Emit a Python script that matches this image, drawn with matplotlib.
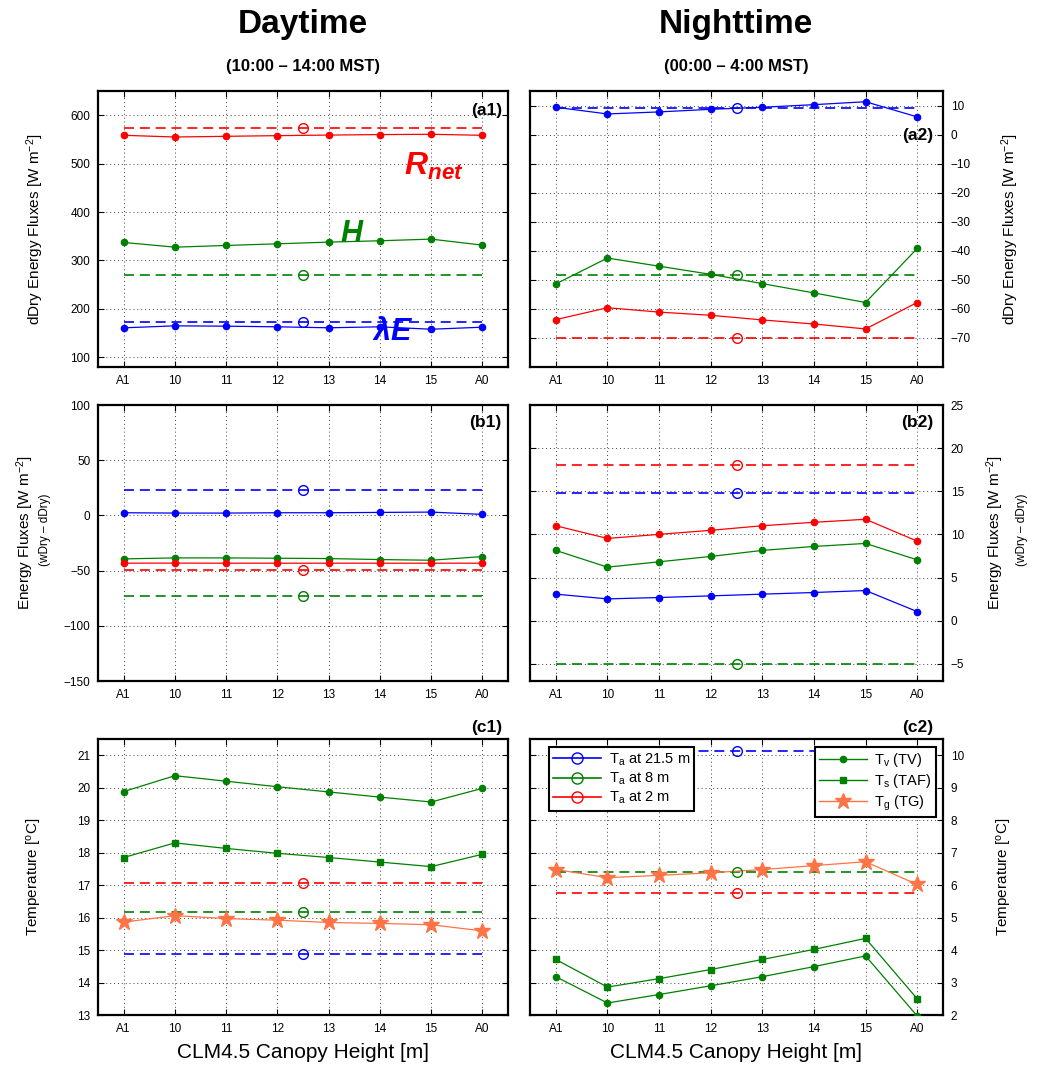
import matplotlib
matplotlib.use("Agg")
import matplotlib.pyplot as plt
from matplotlib.lines import Line2D

plt.rcParams["font.family"] = ["Liberation Sans", "DejaVu Sans"]
plt.rcParams["mathtext.fontset"] = "custom"
plt.rcParams["mathtext.rm"] = "Liberation Sans"
plt.rcParams["mathtext.it"] = "Liberation Sans:italic"
plt.rcParams["mathtext.bf"] = "Liberation Sans:bold:italic"


# =================
# DANE
# =================
heights = ["A1", "10", "11", "12", "13", "14", "15", "A0"]

# dzien - strumienie dDry
rnet_day = [558.5, 555.0, 556.4, 557.8, 559.0, 560.0, 560.6, 558.5]
h_day = [337.2, 327.5, 331.0, 334.4, 337.9, 340.7, 344.1, 331.7]
le_day = [160.9, 165.0, 164.3, 163.0, 161.0, 163.0, 158.0, 162.2]
obs_flux_day = {"rnet": 573.0, "h": 270.0, "le": 172.0}

# noc - strumienie dDry
rnet_night = [-63.7, -59.6, -61.1, -62.2, -63.8, -65.2, -66.9, -57.8]
h_night = [-51.4, -42.5, -45.3, -48.1, -51.3, -54.5, -57.8, -39.2]
le_night = [9.4, 7.1, 7.8, 8.7, 9.4, 10.3, 11.3, 6.1]
obs_flux_night = {"rnet": -70.0, "h": -48.2, "le": 9.2}

# roznica wDry - dDry
rnet_diff_day = [-43.3, -43.2, -43.3, -43.3, -43.3, -43.3, -43.3, -43.3]
h_diff_day = [-39.4, -38.5, -38.5, -38.8, -39.1, -40.0, -40.6, -37.3]
le_diff_day = [2.4, 2.1, 2.1, 2.4, 2.4, 2.7, 3.0, 0.9]
obs_diff_day = {"rnet": -49.4, "h": -73.3, "le": 22.7}

rnet_diff_night = [11.0, 9.53, 10.0, 10.47, 11.0, 11.4, 11.75, 9.22]
h_diff_night = [8.14, 6.2, 6.82, 7.44, 8.14, 8.6, 8.95, 7.05]
le_diff_night = [3.07, 2.52, 2.68, 2.87, 3.07, 3.26, 3.49, 1.05]
obs_diff_night = {"rnet": 18.1, "h": -5.0, "le": 14.8}

# temperatury
tv_day = [19.88, 20.37, 20.2, 20.03, 19.87, 19.71, 19.56, 19.98]
ts_day = [17.85, 18.3, 18.13, 17.98, 17.85, 17.71, 17.57, 17.95]
tg_day = [15.86, 16.06, 15.97, 15.92, 15.85, 15.82, 15.78, 15.59]
ta_day = {"21.5": 14.88, "8": 16.16, "2": 17.08}

tv_night = [3.18, 2.37, 2.63, 2.9, 3.18, 3.49, 3.82, 1.97]
ts_night = [3.71, 2.86, 3.12, 3.40, 3.71, 4.02, 4.36, 2.5]
tg_night = [6.48, 6.23, 6.3, 6.38, 6.48, 6.6, 6.72, 6.02]
ta_night = {"21.5": 10.12, "8": 6.4, "2": 5.75}

BLUE = "#0000ff"
GREEN = "#008000"
RED = "#ff0000"
CORAL = "#ff7446"

xs = list(range(1, len(heights) + 1))


# =================
# STYL WYKRESOW
# =================
def styl(ax, ylim, yticks, right=False):
    ax.set_xlim(0.5, 8.5)
    ax.set_xticks(xs)
    ax.set_xticklabels(heights)
    ax.set_ylim(*ylim)
    ax.set_yticks(yticks)
    ax.set_axisbelow(True)
    ax.grid(True, linestyle=(0, (1, 3)), color="k", linewidth=0.7, alpha=0.75)
    ax.tick_params(direction="in", top=True, right=True, length=4, width=0.8,
                   labelsize=8.5, pad=5.5)
    if right:
        ax.tick_params(labelleft=False, labelright=True)
    for s in ax.spines.values():
        s.set_linewidth(1.6)


def model(ax, values, color, marker="o", ms=4.5):
    ax.plot(xs, values, "-", color=color, marker=marker, ms=ms, lw=0.9,
            mec=color, mfc=color, zorder=3)


def pomiar(ax, value, color):
    ax.plot([xs[0], xs[-1]], [value, value], color=color, lw=1.2,
            linestyle=(0, (6, 3.5)), zorder=2)
    ax.plot(4.5, value, "o", mfc="none", mec=color, ms=7, mew=1.0, zorder=3)


def panel(ax, txt, x, y, va="center"):
    ax.text(x, y, txt, transform=ax.transAxes, ha="right", va=va,
            fontsize=12.5, fontweight="bold")


# =================
# UKLAD
# =================
fig = plt.figure(figsize=(10.41, 10.73), dpi=100)
W, H = 1041.0, 1073.0
cols = [(98, 410), (530, 413)]
rows = [(91, 367), (405, 681), (739, 1015)]
axs = [[fig.add_axes([c[0] / W, 1 - r[1] / H, c[1] / W, (r[1] - r[0]) / H])
        for c in cols] for r in rows]

# (a1)
ax = axs[0][0]
model(ax, rnet_day, RED)
model(ax, h_day, GREEN)
model(ax, le_day, BLUE)
pomiar(ax, obs_flux_day["rnet"], RED)
pomiar(ax, obs_flux_day["h"], GREEN)
pomiar(ax, obs_flux_day["le"], BLUE)
styl(ax, (80, 650), range(100, 601, 100))
ax.text(6.47, 476, r"$\mathbf{R_{net}}$", color=RED, fontsize=23, va="baseline")
ax.text(5.22, 338, r"$\mathbf{H}$", color=GREEN, fontsize=22, va="baseline")
ax.text(5.85, 136, r"$\mathbf{\lambda E}$", color=BLUE, fontsize=22, va="baseline")
panel(ax, "(a1)", 0.985, 0.931)

# (a2)
ax = axs[0][1]
model(ax, le_night, BLUE)
model(ax, h_night, GREEN)
model(ax, rnet_night, RED)
pomiar(ax, obs_flux_night["le"], BLUE)
pomiar(ax, obs_flux_night["h"], GREEN)
pomiar(ax, obs_flux_night["rnet"], RED)
styl(ax, (-80, 15), range(-70, 11, 10), right=True)
panel(ax, "(a2)", 0.976, 0.840)

# (b1)
ax = axs[1][0]
model(ax, le_diff_day, BLUE)
model(ax, h_diff_day, GREEN)
model(ax, rnet_diff_day, RED)
pomiar(ax, obs_diff_day["le"], BLUE)
pomiar(ax, obs_diff_day["h"], GREEN)
pomiar(ax, obs_diff_day["rnet"], RED)
styl(ax, (-150, 100), range(-150, 101, 50))
panel(ax, "(b1)", 0.985, 0.935)

# (b2)
ax = axs[1][1]
model(ax, rnet_diff_night, RED)
model(ax, h_diff_night, GREEN)
model(ax, le_diff_night, BLUE)
pomiar(ax, obs_diff_night["rnet"], RED)
pomiar(ax, obs_diff_night["le"], BLUE)
pomiar(ax, obs_diff_night["h"], GREEN)
styl(ax, (-7, 25), range(-5, 26, 5), right=True)
panel(ax, "(b2)", 0.976, 0.935)

# (c1)
ax = axs[2][0]
model(ax, tv_day, GREEN)
model(ax, ts_day, GREEN, marker="s", ms=5)
model(ax, tg_day, CORAL, marker="*", ms=12)
pomiar(ax, ta_day["2"], RED)
pomiar(ax, ta_day["8"], GREEN)
pomiar(ax, ta_day["21.5"], BLUE)
styl(ax, (13, 21.5), range(13, 22))
panel(ax, "(c1)", 0.985, 1.04)

# (c2)
ax = axs[2][1]
model(ax, tv_night, GREEN)
model(ax, ts_night, GREEN, marker="s", ms=5)
model(ax, tg_night, CORAL, marker="*", ms=12)
pomiar(ax, ta_night["2"], RED)
pomiar(ax, ta_night["8"], GREEN)
pomiar(ax, ta_night["21.5"], BLUE)
styl(ax, (2, 10.5), range(2, 11), right=True)
panel(ax, "(c2)", 0.976, 1.04)

# legendy
obs_handles = [Line2D([], [], color=c, lw=1.2, marker="o", mfc="none", ms=8, mew=1.0)
               for c in (BLUE, GREEN, RED)]
obs_labels = [r"T$_\mathrm{a}$ at 21.5 m", r"T$_\mathrm{a}$ at 8 m",
              r"T$_\mathrm{a}$ at 2 m"]
mod_handles = [Line2D([], [], color=GREEN, lw=1.0, marker="o", ms=4.5),
               Line2D([], [], color=GREEN, lw=1.0, marker="s", ms=5),
               Line2D([], [], color=CORAL, lw=1.0, marker="*", ms=12)]
mod_labels = [r"T$_\mathrm{v}$ (TV)", r"T$_\mathrm{s}$ (TAF)", r"T$_\mathrm{g}$ (TG)"]

leg_kw = dict(fontsize=10.5, fancybox=False, framealpha=1, edgecolor="k",
              handlelength=3.3, borderpad=0.3, labelspacing=0.2,
              handletextpad=0.5, borderaxespad=0)
leg1 = ax.legend(obs_handles, obs_labels, loc="upper left",
                 bbox_to_anchor=(0.046, 0.971), **leg_kw)
leg1.get_frame().set_linewidth(1.5)
leg1.set_zorder(10)
ax.add_artist(leg1)
leg2 = ax.legend(mod_handles, mod_labels, loc="upper right",
                 bbox_to_anchor=(0.983, 0.971), **leg_kw)
leg2.get_frame().set_linewidth(1.5)
leg2.set_zorder(10)


# =================
# OPISY
# =================
fig.text(303 / W, 1 - 25 / H, "Daytime", ha="center", va="center",
         fontsize=24, fontweight="bold")
fig.text(303 / W, 1 - 66 / H, "(10:00 \u2013 14:00 MST)", ha="center", va="center",
         fontsize=12, fontweight="bold")
fig.text(736 / W, 1 - 25 / H, "Nighttime", ha="center", va="center",
         fontsize=24, fontweight="bold")
fig.text(736 / W, 1 - 66 / H, "(00:00 \u2013 4:00 MST)", ha="center", va="center",
         fontsize=12, fontweight="bold")

for xc in (303, 736):
    fig.text(xc / W, 1 - 1052 / H, "CLM4.5 Canopy Height [m]", ha="center",
             va="center", fontsize=15)

ylab = dict(rotation=90, ha="center", va="center", fontsize=11)
fig.text(35 / W, 1 - 229 / H, r"dDry Energy Fluxes [W m$^{-2}$]", **ylab)
fig.text(1010 / W, 1 - 229 / H, r"dDry Energy Fluxes [W m$^{-2}$]", **ylab)

fig.text(25 / W, 1 - 532 / H, r"Energy Fluxes [W m$^{-2}$]", **ylab)
fig.text(45 / W, 1 - 530 / H, "(wDry \u2013 dDry)", rotation=90, ha="center",
         va="center", fontsize=8.5)
fig.text(995 / W, 1 - 532 / H, r"Energy Fluxes [W m$^{-2}$]", **ylab)
fig.text(1022 / W, 1 - 530 / H, "(wDry \u2013 dDry)", rotation=90, ha="center",
         va="center", fontsize=8.5)

fig.text(35 / W, 1 - 877 / H, r"Temperature [$^{\mathrm{o}}$C]", **ylab)
fig.text(1005 / W, 1 - 877 / H, r"Temperature [$^{\mathrm{o}}$C]", **ylab)

fig.savefig("out.png", dpi=100)
